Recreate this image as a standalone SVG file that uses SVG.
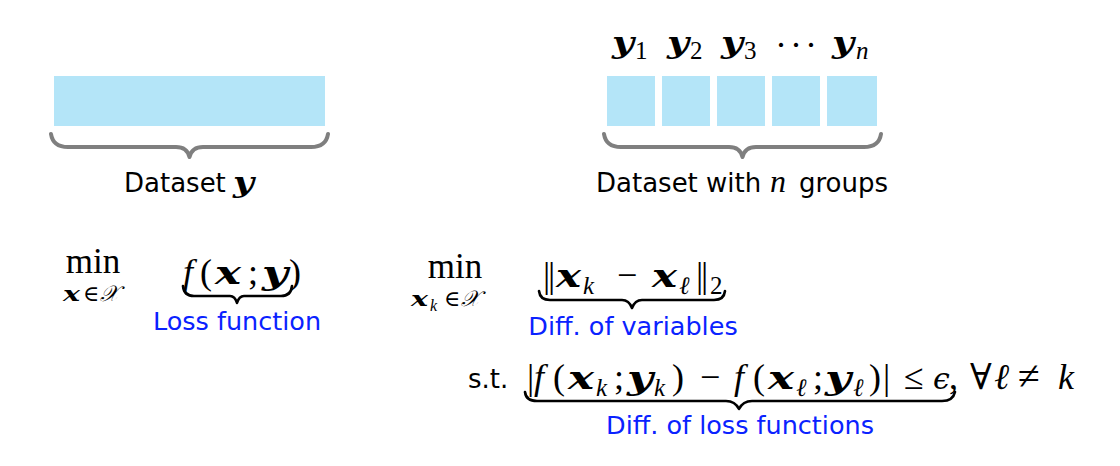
<svg xmlns="http://www.w3.org/2000/svg" width="1120" height="466" viewBox="0 0 1120 466">
<style>
.cell{fill:#b4e5f8}
.gb{fill:none;stroke:#7f7f7f;stroke-width:4;stroke-linecap:round;stroke-linejoin:round}
.bb{fill:none;stroke:#000;stroke-width:2.6;stroke-linecap:round;stroke-linejoin:round}
.sans{font-family:"DejaVu Sans","Liberation Sans",sans-serif;fill:#000;font-size:26px}
.blue{font-family:"DejaVu Sans","Liberation Sans",sans-serif;fill:#0a22ff;font-size:25.5px;text-anchor:middle}
.m{font-family:"Liberation Serif","DejaVu Serif",serif;fill:#000;font-size:36px}
.s{font-size:25px}
.ss{font-size:22px}
.v{font-family:"DejaVu Serif","Liberation Serif",serif;font-weight:bold;font-style:italic;font-size:31px}
.vs{font-family:"DejaVu Serif","Liberation Serif",serif;font-weight:bold;font-style:italic;font-size:20px}
.it{font-style:italic}
.eps{font-family:"DejaVu Serif",serif;font-style:italic;font-weight:normal;font-size:30px}
</style>
<rect width="1120" height="466" fill="#fff"/>
<g id="dataset-left">
<rect class="cell" x="54" y="76" width="271" height="50"/>
<path class="gb" d="M51,134 Q53,147 68,147 L176,147 Q187,147 189.5,157 Q192,147 203,147 L311,147 Q326,147 328,134"/>
<text class="sans" x="124" y="192">Dataset</text>
<text class="v" x="233" y="192" style="font-size:27px" textLength="21" lengthAdjust="spacingAndGlyphs">y</text>
</g>
<g id="dataset-right">
<rect class="cell" x="607" y="76" width="48" height="50"/>
<rect class="cell" x="662" y="76" width="48" height="50"/>
<rect class="cell" x="717" y="76" width="48" height="50"/>
<rect class="cell" x="772" y="76" width="48" height="50"/>
<rect class="cell" x="827" y="76" width="50" height="50"/>
<path class="gb" d="M604,134 Q606,147 621,147 L729,147 Q740,147 742.5,157 Q745,147 756,147 L864,147 Q879,147 881,134"/>
<text class="v" x="612" y="53" style="font-size:30px" textLength="22" lengthAdjust="spacingAndGlyphs">y</text><text class="m s" x="635" y="59">1</text>
<text class="v" x="667" y="53" style="font-size:30px" textLength="22" lengthAdjust="spacingAndGlyphs">y</text><text class="m s" x="690" y="59">2</text>
<text class="v" x="721" y="53" style="font-size:30px" textLength="22" lengthAdjust="spacingAndGlyphs">y</text><text class="m s" x="744" y="59">3</text>
<text class="m" x="781" y="57" text-anchor="middle">·</text>
<text class="m" x="796" y="57" text-anchor="middle">·</text>
<text class="m" x="811" y="57" text-anchor="middle">·</text>
<text class="v" x="832" y="53" style="font-size:30px" textLength="22" lengthAdjust="spacingAndGlyphs">y</text><text class="m s it" x="856" y="59">n</text>
<text class="sans" x="596" y="192">Dataset with</text>
<text class="m it" x="770" y="192" style="font-size:32px">n</text>
<text class="sans" x="799" y="192">groups</text>
</g>
<g id="problem-left">
<text class="m" x="93" y="273" style="font-size:35px" text-anchor="middle">min</text>
<text class="vs" x="63" y="301" textLength="17" lengthAdjust="spacingAndGlyphs">x</text>
<text class="m ss" x="83" y="301">∈</text>
<text class="m ss it" x="100" y="301">𝒳</text>
<text class="m it" x="183" y="284">f</text>
<text class="m" x="200" y="284">(</text>
<text class="v" x="215" y="284" textLength="26" lengthAdjust="spacingAndGlyphs">x</text>
<text class="m" x="248" y="284">;</text>
<text class="v" x="262" y="284" textLength="26" lengthAdjust="spacingAndGlyphs">y</text>
<text class="m" x="289" y="284">)</text>
<path class="bb" d="M183,286 Q184,296 194,296 L230,296 Q235,296 237,303 Q239,296 244,296 L281,296 Q291,296 292,286"/>
<text class="blue" x="237" y="330">Loss function</text>
</g>
<g id="problem-right">
<text class="m" x="455" y="278" style="font-size:35px" text-anchor="middle">min</text>
<text class="vs" x="411" y="306" textLength="17" lengthAdjust="spacingAndGlyphs">x</text>
<text class="m it" x="430" y="311" style="font-size:16px">k</text>
<text class="m ss" x="444" y="306">∈</text>
<text class="m ss it" x="461" y="306">𝒳</text>
<text class="m" x="543" y="287">|</text>
<text class="m" x="548" y="287">|</text>
<text class="v" x="556" y="287" textLength="25" lengthAdjust="spacingAndGlyphs">x</text>
<text class="m s it" x="583" y="294">k</text>
<text class="m" x="617" y="287">−</text>
<text class="v" x="652" y="287" textLength="25" lengthAdjust="spacingAndGlyphs">x</text>
<text class="m s it" x="679" y="294">ℓ</text>
<text class="m" x="696" y="287">|</text>
<text class="m" x="701" y="287">|</text>
<text class="m s" x="710" y="294">2</text>
<path class="bb" d="M539,291 Q540,300 550,300 L622,300 Q629,300 632,308 Q635,300 642,300 L714,300 Q724,300 725,291"/>
<text class="blue" x="633" y="335">Diff. of variables</text>
<text class="sans" x="468" y="388">s.t.</text>
<text class="m" x="527" y="389">|</text>
<text class="m it" x="534" y="389">f</text>
<text class="m" x="553" y="389">(</text>
<text class="v" x="568" y="389" textLength="26" lengthAdjust="spacingAndGlyphs">x</text>
<text class="m s it" x="596" y="396">k</text>
<text class="m" x="614" y="389">;</text>
<text class="v" x="627" y="389" textLength="26" lengthAdjust="spacingAndGlyphs">y</text>
<text class="m s it" x="654" y="396">k</text>
<text class="m" x="672" y="389">)</text>
<text class="m" x="700" y="389">−</text>
<text class="m it" x="734" y="389">f</text>
<text class="m" x="753" y="389">(</text>
<text class="v" x="768" y="389" textLength="26" lengthAdjust="spacingAndGlyphs">x</text>
<text class="m s it" x="796" y="396">ℓ</text>
<text class="m" x="813" y="389">;</text>
<text class="v" x="825" y="389" textLength="26" lengthAdjust="spacingAndGlyphs">y</text>
<text class="m s it" x="853" y="396">ℓ</text>
<text class="m" x="869" y="389">)</text>
<text class="m" x="883" y="389">|</text>
<text class="m" x="904" y="389">≤</text>
<text class="eps" x="933" y="389">ϵ</text>
<text class="m" x="949" y="389">,</text>
<text class="m" x="970" y="389">∀</text>
<text class="m it" x="994" y="389">ℓ</text>
<text class="m" x="1018" y="389" style="font-size:40px">≠</text>
<text class="m it" x="1058" y="389">k</text>
<path class="bb" d="M525,392 Q526,401 537,401 L726,401 Q735,401 739,409 Q743,401 752,401 L942,401 Q953,401 955,392"/>
<text class="blue" x="740" y="434">Diff. of loss functions</text>
</g>
</svg>
